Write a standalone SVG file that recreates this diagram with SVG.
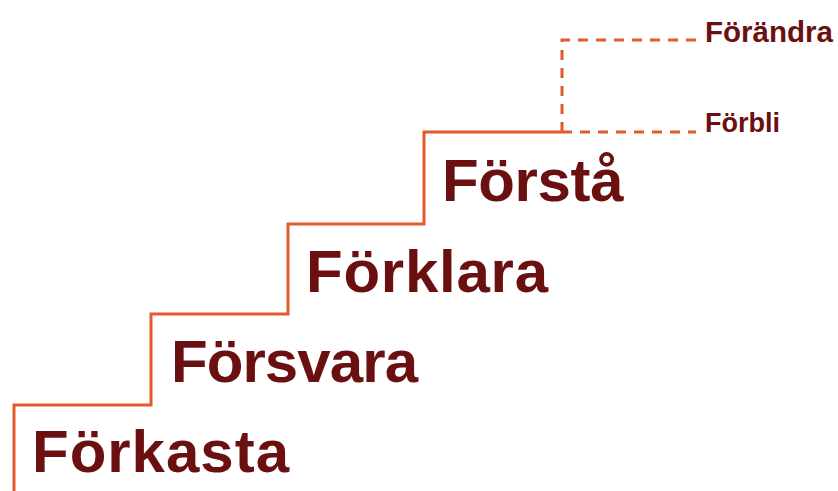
<svg xmlns="http://www.w3.org/2000/svg" width="838" height="491" viewBox="0 0 838 491">
<style>
.step{fill:none;stroke:#E05A2B;stroke-width:3;stroke-linejoin:miter}
.dash{fill:none;stroke:#E05A2B;stroke-width:3;stroke-dasharray:10 8}
.big{font-family:"Liberation Sans",Arial,sans-serif;font-weight:bold;font-size:60px;fill:#6B1010}
.small{font-family:"Liberation Sans",Arial,sans-serif;font-weight:bold;fill:#6B1010}
</style>
<rect width="838" height="491" fill="#ffffff"/>
<g id="connectors">
<path class="step" d="M14,491 V405 H151 V314 H288 V224 H424 V132 H562"/>
<path class="dash" d="M562,132 H696"/>
<path class="dash" d="M562,132 V40 H696"/>
</g>
<g id="forkasta"><text class="big" x="32" y="472" textLength="257">Förkasta</text></g>
<g id="forsvara"><text class="big" x="171" y="382" textLength="247">Försvara</text></g>
<g id="forklara"><text class="big" x="306" y="292" textLength="242">Förklara</text></g>
<g id="forsta"><text class="big" x="442" y="201" textLength="181.5">Förstå</text></g>
<g id="forandra"><text class="small" x="705" y="42" font-size="29.5">Förändra</text></g>
<g id="forbli"><text class="small" x="705" y="132" font-size="27">Förbli</text></g>
</svg>
